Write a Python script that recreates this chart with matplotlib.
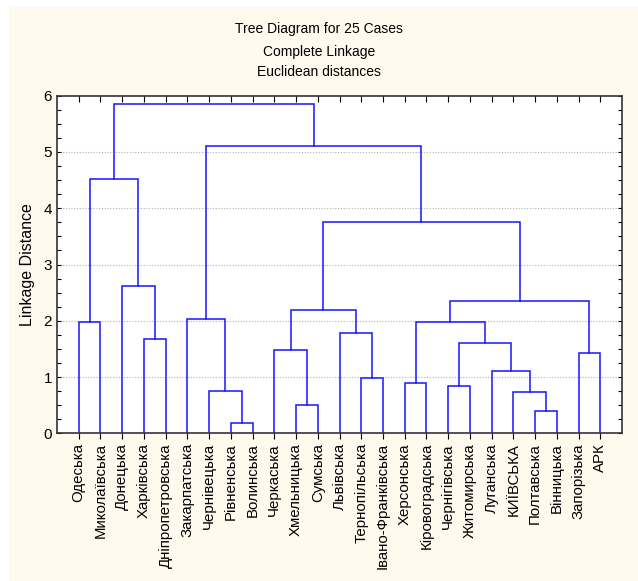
import matplotlib
matplotlib.use("Agg")
import matplotlib.pyplot as plt
from matplotlib.patches import Rectangle
from matplotlib.ticker import MultipleLocator

plt.rcParams['font.family'] = ['Liberation Sans', 'DejaVu Sans']

labels = ["Одеська", "Миколаївська", "Донецька", "Харківська", "Дніпропетровська",
          "Закарпатська", "Чернівецька", "Рівненська", "Волинська", "Черкаська",
          "Хмельницька", "Сумська", "Львівська", "Тернопільська", "Івано-Франківська",
          "Херсонська", "Кіровоградська", "Чернігівська", "Житомирська", "Луганська",
          "КИЇВСЬКА", "Полтавська", "Вінницька", "Запорізька", "АРК"]

# merges: (left child, right child); leaves 0..24, clusters numbered from 25
merge_left = [7, 21, 10, 20, 6, 17, 15, 13, 19, 23, 9, 30, 3, 12, 0, 31, 5, 35, 40, 2, 42, 39, 41, 46]
merge_right = [8, 22, 11, 26, 25, 18, 16, 14, 28, 24, 27, 33, 4, 32, 1, 36, 29, 38, 34, 37, 43, 44, 45, 47]
merge_height = [0.19, 0.39, 0.50, 0.73, 0.75, 0.835, 0.89, 0.98, 1.11, 1.42, 1.48, 1.60,
                1.67, 1.78, 1.98, 1.98, 2.03, 2.19, 2.36, 2.61, 3.75, 4.52, 5.10, 5.85]

W, H = 638, 581
fig = plt.figure(figsize=(W / 100, H / 100), dpi=100, facecolor='white')
fig.patches.append(Rectangle((9 / W, 0), 1 - 9 / W, 1 - 7 / H, transform=fig.transFigure,
                             facecolor='#FFF9EE', edgecolor='none', zorder=-10))

ax = fig.add_axes([57 / W, 1 - 433.3 / H, (622 - 57) / W, (433.3 - 95.7) / H])
ax.set_facecolor('white')

n = len(labels)
xpos = {i: i + 1 for i in range(n)}
ypos = {i: 0.0 for i in range(n)}
line_color = '#1515FF'
for k, (a, b, h) in enumerate(zip(merge_left, merge_right, merge_height)):
    xa, xb = xpos[a], xpos[b]
    ya, yb = ypos[a], ypos[b]
    ax.plot([xa, xa, xb, xb], [ya, h, h, yb], color=line_color, lw=1.1, solid_joinstyle='miter')
    cid = n + k
    xpos[cid] = (xa + xb) / 2
    ypos[cid] = h

ax.set_xlim(0, n + 1)
ax.set_ylim(0, 6)
ax.yaxis.set_major_locator(MultipleLocator(1))
ax.yaxis.set_minor_locator(MultipleLocator(0.25))
for y in range(1, 6):
    ax.axhline(y, color='#b0b0b0', lw=0.8, ls=(0, (1, 1.5)), zorder=0)

ax.set_xticks(range(1, n + 1))
ax.set_xticklabels(labels, rotation=90, fontsize=10.8, va='top', ha='center')
ax.tick_params(axis='x', which='both', direction='out', length=4, top=True, width=0.8)
ax.tick_params(axis='y', which='both', direction='in', right=True, width=0.8)
ax.tick_params(axis='y', which='major', length=3, labelsize=11)
ax.tick_params(axis='y', which='minor', length=3)
ax.tick_params(axis='x', pad=3)
for t in ax.xaxis.get_major_ticks():
    t.tick2line.set_marker(matplotlib.lines.TICKDOWN)
    t.tick2line.set_markersize(4)

for s in ax.spines.values():
    s.set_color('#333333')
    s.set_linewidth(1.2)

ax.set_ylabel('Linkage Distance', fontsize=11.5, labelpad=6)

fig.text(0.5, 1 - 29 / H, 'Tree Diagram for 25 Cases', ha='center', va='center', fontsize=10)
fig.text(0.5, 1 - 52 / H, 'Complete Linkage', ha='center', va='center', fontsize=10)
fig.text(0.5, 1 - 72 / H, 'Euclidean distances', ha='center', va='center', fontsize=10)

fig.savefig('out.png', dpi=100, facecolor=fig.get_facecolor())
